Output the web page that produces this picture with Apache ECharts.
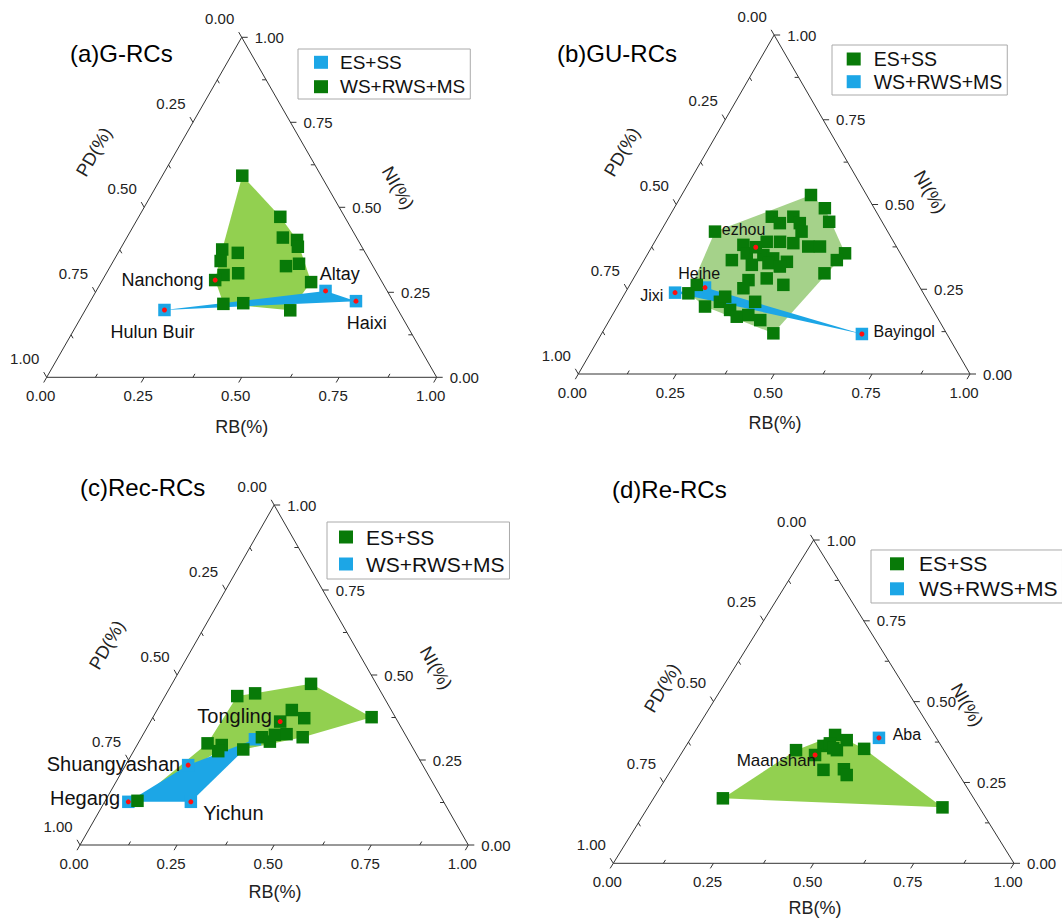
<!DOCTYPE html>
<html><head><meta charset="utf-8">
<script src="https://cdn.jsdelivr.net/npm/echarts@6/dist/echarts.min.js"></script>
<style>html,body{margin:0;padding:0;background:#fff}#c{width:1062px;height:920px}</style>
</head><body><div id="c"></div>
<script>
// ===== DATA: ternary compositions [RB, NI, name?]  (PD = 1 - RB - NI) =====
const aGreen = [[0.205,0.593],[0.363,0.472],[0.400,0.411],[0.440,0.404],[0.452,0.384],[0.262,0.376],[0.307,0.366],[0.275,0.342],[0.450,0.327],[0.480,0.334],[0.303,0.301],[0.338,0.306],[0.289,0.286,'Nanchong'],[0.538,0.280],[0.345,0.216],[0.395,0.218],[0.526,0.197]];
const aBlue = [[0.203,0.198,'Hulun Buir'],[0.588,0.254,'Altay'],[0.681,0.224,'Haixi']];

const bGreen = [[0.330,0.528],[0.385,0.489],[0.416,0.449],[0.262,0.464],[0.317,0.464],[0.292,0.445],[0.343,0.445],[0.360,0.420],[0.139,0.420],[0.231,0.381],[0.286,0.390],[0.320,0.390],[0.356,0.386],[0.399,0.376],[0.429,0.376],[0.503,0.356],[0.492,0.336],[0.224,0.336],[0.252,0.356],[0.297,0.351],[0.327,0.341],[0.367,0.331],[0.282,0.322],[0.322,0.327],[0.356,0.317],[0.480,0.297],[0.296,0.277],[0.340,0.282],[0.392,0.263],[0.295,0.253],[0.171,0.263],[0.162,0.238],[0.224,0.199],[0.255,0.213],[0.261,0.228],[0.293,0.189],[0.320,0.169],[0.347,0.174],[0.345,0.213],[0.385,0.159],[0.438,0.120],[0.266,0.374,'ezhou']];
const bBlue = [[0.127,0.240,'Jixi'],[0.196,0.255,'Heihe'],[0.665,0.118,'Bayingol']];

const cGreen = [[0.186,0.438],[0.228,0.446],[0.358,0.474],[0.347,0.397],[0.391,0.373],[0.563,0.376],[0.334,0.363,'Tongling'],[0.310,0.317],[0.337,0.304],[0.340,0.324],[0.369,0.326],[0.415,0.317],[0.179,0.299],[0.218,0.294],[0.218,0.276],[0.280,0.281],[0.083,0.130]];
const cBlue = [[0.161,0.235,'Shuangyashan'],[0.061,0.127,'Hegang'],[0.222,0.127,'Yichun'],[0.295,0.311]];
const cGreenOutline = [16,12,0,1,2,5,11,15,14];
const cBlueOutline = [1,0,3,2];

const dGreen = [[0.355,0.397],[0.392,0.381],[0.343,0.363],[0.383,0.350],[0.281,0.350],[0.336,0.335,'Maanshan'],[0.449,0.354],[0.380,0.289],[0.430,0.291],[0.446,0.273],[0.173,0.201],[0.735,0.173],[0.355,0.371],[0.371,0.356]];
const dBlue = [[0.469,0.388,'Aba']];

const tickValues = [0,0.125,0.25,0.375,0.5,0.625,0.75,0.875,1];
const tickLabels = ['0.00','','0.25','','0.50','','0.75','','1.00'];
const legendNames = ['ES+SS','WS+RWS+MS'];
const panelTitles = ['(a)G-RCs','(b)GU-RCs','(c)Rec-RCs','(d)Re-RCs'];
const axisNames = ['RB(%)','NI(%)','PD(%)'];

// ===== STYLE / LAYOUT =====
const FF = "'Liberation Sans', Arial, Helvetica, sans-serif";
const GREEN = '#087a08', BLUE = '#1ca6e6', RED = '#ff1010';
const panels = [
  {grid:{left:46.7,top:37.3,width:390,height:340}, green:aGreen, blue:aBlue, gName:'WS+RWS+MS', bName:'ES+SS',
   gOut:null, bOut:null, fill:'#92d050', nameFont:18, title:[70,53],
   rb:[241.7,426.7], ni:[398,188], pd:[94,152],
   lg:{left:298,top:49,padT:3.3,padB:2.3,padL:16,textPad:7,gap:4.4,font:19}},
  {grid:{left:578.3,top:35,width:391.7,height:339}, green:bGreen, blue:bBlue, gName:'ES+SS', bName:'WS+RWS+MS',
   gOut:null, bOut:null, fill:'#a5d28a', nameFont:16, title:[557,53],
   rb:[775,423], ni:[930,192], pd:[622,152],
   lg:{left:832,top:45,padT:4,padB:3.3,padL:14.7,textPad:8,gap:2.7,font:19.5}},
  {grid:{left:80,top:505,width:388.3,height:340}, green:cGreen, blue:cBlue, gName:'ES+SS', bName:'WS+RWS+MS',
   gOut:cGreenOutline, bOut:cBlueOutline, fill:'#92d050', nameFont:20, title:[80,487],
   rb:[275,891.7], ni:[436,668], pd:[107,645],
   lg:{left:327,top:522,padT:4.5,padB:4.5,padL:12,textPad:8,gap:6,font:21}},
  {grid:{left:613.3,top:540,width:400.7,height:323.3}, green:dGreen, blue:dBlue, gName:'ES+SS', bName:'WS+RWS+MS',
   gOut:null, bOut:null, fill:'#92d050', nameFont:17, title:[612,489],
   rb:[815,908], ni:[967,705], pd:[662,688],
   lg:{left:871,top:550,padT:3.3,padB:3.7,padL:19,textPad:10,gap:4,font:21}}
];
const nameLayout = {
  'Nanchong':{align:'right',dx:-11.7,dy:0}, 'Hulun Buir':{align:'center',dx:-12,dy:22},
  'Altay':{align:'left',dx:-5.7,dy:-17}, 'Haixi':{align:'left',dx:-9.3,dy:22.3},
  'ezhou':{align:'left',dx:-34,dy:-18}, 'Heihe':{align:'left',dx:-26.7,dy:-13.7},
  'Jixi':{align:'right',dx:-11.7,dy:3.3}, 'Bayingol':{align:'left',dx:11.6,dy:-2.3},
  'Tongling':{align:'right',dx:-8.3,dy:-5.7}, 'Shuangyashan':{align:'right',dx:-8,dy:-1},
  'Hegang':{align:'right',dx:-8.3,dy:-3.4}, 'Yichun':{align:'left',dx:12.3,dy:11},
  'Maanshan':{align:'right',dx:1,dy:5.7}, 'Aba':{align:'left',dx:13.7,dy:-3.4}
};

// ternary -> cartesian data space (x = RB + NI/2, y = NI)
const toXY = p => [p[0] + p[1] / 2, p[1]];
// axis 0: RB on bottom edge, 1: NI on right edge, 2: PD on left edge
const baseTern = (a, t) => a === 0 ? [t, 0] : (a === 1 ? [1 - t, t] : [0, 1 - t]);
const outDir = [[0, -1], [1, 0], [-1, 1]];
const labelOff = [[-6, 18], [13, 0], [-22, -19]];

function hullIdx(pts) {
  const idx = pts.map((p, i) => i).sort((i, j) => pts[i][0] - pts[j][0] || pts[i][1] - pts[j][1]);
  const cr = (o, a, b) => (pts[a][0]-pts[o][0])*(pts[b][1]-pts[o][1]) - (pts[a][1]-pts[o][1])*(pts[b][0]-pts[o][0]);
  const lo = [], up = [];
  for (const i of idx) { while (lo.length >= 2 && cr(lo[lo.length-2], lo[lo.length-1], i) <= 0) lo.pop(); lo.push(i); }
  for (const i of idx.slice().reverse()) { while (up.length >= 2 && cr(up[up.length-2], up[up.length-1], i) <= 0) up.pop(); up.push(i); }
  lo.pop(); up.pop(); return lo.concat(up);
}

function polySeries(gi, verts, color, z) {
  return {type:'custom', xAxisIndex:gi, yAxisIndex:gi, z, silent:true, clip:false, data:verts,
    renderItem:(params, api) => {
      if (params.dataIndex !== 0) return null;
      return {type:'polygon', shape:{points: verts.map(v => api.coord(v))}, style:{fill:color}};
    }};
}

const grids = [], xAxes = [], yAxes = [], series = [], legends = [], gfx = [];
panels.forEach((P, gi) => {
  grids.push(Object.assign({containLabel:false}, P.grid));
  xAxes.push({type:'value', gridIndex:gi, min:0, max:1, show:false});
  yAxes.push({type:'value', gridIndex:gi, min:0, max:1, show:false});
  const gXY = P.green.map(toXY), bXY = P.blue.map(toXY);
  const gO = (P.gOut || hullIdx(gXY)).map(i => gXY[i]);
  const bO = (P.bOut || hullIdx(bXY)).map(i => bXY[i]);
  series.push(polySeries(gi, gO, P.fill, 1));
  series.push(polySeries(gi, bO, BLUE, 2));
  series.push({type:'line', xAxisIndex:gi, yAxisIndex:gi, z:3, silent:true, clip:false, symbol:'none',
    data:[[0,0],[1,0],[0,1],[0,0]].map(toXY), lineStyle:{color:'#333', width:1}});
  const tdata = [];
  for (let a = 0; a < 3; a++) tickValues.forEach((t, k) => tdata.push([a, t, k]));
  series.push({type:'custom', xAxisIndex:gi, yAxisIndex:gi, z:3, silent:true, clip:false, data:tdata,
    renderItem:(params, api) => {
      const a = api.value(0), t = api.value(1), k = api.value(2);
      const b = baseTern(a, t), d = outDir[a];
      const p0 = api.coord(toXY(b));
      const p1 = api.coord(toXY([b[0] + d[0] * 0.1, b[1] + d[1] * 0.1]));
      let dx = p1[0] - p0[0], dy = p1[1] - p0[1]; const L = Math.hypot(dx, dy); dx /= L; dy /= L;
      const major = k % 2 === 0, len = major ? 6 : -4;
      const ch = [{type:'line', shape:{x1:p0[0], y1:p0[1], x2:p0[0] + dx * len, y2:p0[1] + dy * len},
                   style:{stroke:'#333', lineWidth:1}}];
      if (major) ch.push({type:'text', x:p0[0] + labelOff[a][0], y:p0[1] + labelOff[a][1],
        style:{text:tickLabels[k], fill:'#222', font:'15px ' + FF, align:a === 1 ? 'left' : 'center', verticalAlign:'middle'}});
      return {type:'group', children:ch};
    }});
  series.push({type:'scatter', name:P.bName, xAxisIndex:gi, yAxisIndex:gi, z:4, silent:true, symbol:'rect',
    symbolSize:12.5, itemStyle:{color:BLUE, opacity:1}, data:bXY});
  series.push({type:'scatter', name:P.gName, xAxisIndex:gi, yAxisIndex:gi, z:5, silent:true, symbol:'rect',
    symbolSize:12.5, itemStyle:{color:GREEN, opacity:1}, data:gXY});
  const named = P.green.concat(P.blue).filter(p => p[2]);
  series.push({type:'scatter', xAxisIndex:gi, yAxisIndex:gi, z:6, silent:true, symbol:'circle', symbolSize:5,
    itemStyle:{color:RED, opacity:1},
    data: named.map(p => { const L = nameLayout[p[2]]; return {value:toXY(p), label:{show:true, formatter:p[2],
      position:'inside', offset:[L.dx, L.dy], align:L.align, verticalAlign:'middle',
      fontSize:p[2] === 'Aba' ? 16 : P.nameFont, fontFamily:FF, color:'#111'}}; })});
  legends.push({orient:'vertical', left:P.lg.left, top:P.lg.top, padding:[P.lg.padT, 5, P.lg.padB, P.lg.padL],
    itemWidth:14, itemHeight:13, itemGap:P.lg.gap, icon:'rect', selectedMode:false,
    borderColor:'#aaa', borderWidth:1, backgroundColor:'#fff',
    textStyle:{fontSize:P.lg.font, fontFamily:FF, color:'#111', lineHeight:20, padding:[0,0,0,P.lg.textPad]},
    data: legendNames.map(n => ({name:n, itemStyle:{color: n === P.gName ? GREEN : BLUE}}))});
  gfx.push({type:'text', x:P.title[0], y:P.title[1], style:{text:panelTitles[gi], font:'24px ' + FF, fill:'#000',
    align:'left', verticalAlign:'middle', textAlign:'left', textVerticalAlign:'middle'}});
  const at = [[P.rb, 0], [P.ni, -Math.PI / 3], [P.pd, Math.PI / 3]];
  at.forEach((q, i) => gfx.push({type:'text', x:q[0][0], y:q[0][1], rotation:q[1],
    style:{text:axisNames[i], font:'18px ' + FF, fill:'#222', align:'center', verticalAlign:'middle',
      textAlign:'center', textVerticalAlign:'middle'}}));
});

const chart = echarts.init(document.getElementById('c'), null, {renderer:'svg'});
chart.setOption({animation:false, backgroundColor:'#fff', grid:grids, xAxis:xAxes, yAxis:yAxes,
  legend:legends, series, graphic:{elements:gfx}});
</script></body></html>
